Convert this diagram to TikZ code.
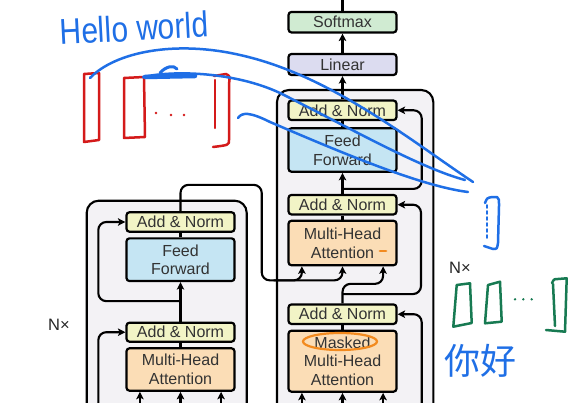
\documentclass[tikz,border=0pt]{standalone}
\usepackage{fontspec}
\setmainfont{Liberation Sans}
\newfontfamily\cjk{Noto Sans CJK SC}
\usetikzlibrary{arrows.meta}
\definecolor{outerfill}{HTML}{F3F2F5}
\definecolor{anfill}{HTML}{F2F4C6}
\definecolor{fffill}{HTML}{C5E5F3}
\definecolor{attfill}{HTML}{FBDDB6}
\definecolor{linfill}{HTML}{DCDCF0}
\definecolor{smfill}{HTML}{D0EBD2}
\definecolor{txt}{HTML}{333333}
\definecolor{hblue}{HTML}{1F6FE6}
\definecolor{hred}{HTML}{D41A1A}
\definecolor{hgreen}{HTML}{177A52}
\definecolor{horange}{HTML}{F28A1E}
\begin{document}
\begin{tikzpicture}[x=1pt,y=-1pt,
  blk/.style={draw=black, line width=2.2pt, rounded corners=3pt, align=center,
    font=\fontsize{16}{18.8}\selectfont, text=txt, inner sep=0pt, minimum width=108pt},
  an/.style={blk, fill=anfill, minimum height=19.5pt},
  ffbox/.style={blk, fill=fffill, minimum height=43.5pt},
  att/.style={blk, fill=attfill},
  conn/.style={line width=2.1pt, rounded corners=8pt},
  arr/.style={conn, -{Stealth[length=7.5pt,width=7.5pt,inset=1.8pt]}},
  outerbox/.style={draw=black, fill=outerfill, line width=2.1pt, rounded corners=12pt},
  hand/.style={line width=2.5pt, line cap=round, line join=round},
  nx/.style={font=\fontsize{16.5}{16.5}\selectfont, text=black!85}
]
\useasboundingbox (0,0) rectangle (585,403);
\clip (0,0) rectangle (585,403);
\fill[white] (0,0) rectangle (585,403);

% outer blocks
\draw[outerbox] (86.7,200.7) rectangle (246.7,445);
\draw[outerbox] (277,90) rectangle (433.3,445);

% decoder column
\node[blk, fill=smfill, minimum height=20.5pt] (sm) at (342.5,22.2) {Softmax};
\node[blk, fill=linfill, minimum height=21pt] (lin) at (342.5,64.5) {Linear};
\node[an] (dAN3) at (342.5,110.3) {Add \& Norm};
\node[ffbox] (dFF) at (342.5,150) {Feed\\Forward};
\node[an] (dAN2) at (342.5,204.7) {Add \& Norm};
\node[att, minimum height=44.5pt] (dMHA) at (342.5,243) {Multi-Head\\Attention};
\node[an] (dAN1) at (342.5,314.2) {Add \& Norm};
\node[att, minimum height=61pt] (dMM) at (342.5,361.2) {Masked\\Multi-Head\\Attention};

% encoder column
\node[an] (eAN2) at (180.5,222) {Add \& Norm};
\node[ffbox, minimum height=42.7pt] (eFF) at (180.5,259.7) {Feed\\Forward};
\node[an, minimum height=19pt] (eAN1) at (180.5,332.2) {Add \& Norm};
\node[att, minimum height=42.4pt] (eMHA) at (180.5,369.5) {Multi-Head\\Attention};

\node[nx] (nxl) at (59,325) {N×};
\node[nx] (nxr) at (460,268) {N×};

% decoder connectors
\draw[arr] (sm.north) -- ++(0,-25);
\draw[arr] (lin.north) -- (sm.south);
\draw[arr] (dAN3.north) -- (lin.south);
\draw[conn] (dFF.north) -- (dAN3.south);
\draw[arr] (dAN2.north) -- (dFF.south);
\draw[arr] (dFF.south) ++(0,16) -- ++(79.2,0) |- (dAN3.east);
\draw[conn] (dMHA.north) -- (dAN2.south);
\draw[arr] (dAN1.north) ++(0,-9.3) -- ++(78.5,0) |- (dAN2.east);
\draw[arr] (dAN1.north) -- ++(0,-19.5) -| ([xshift=-14.5pt]dMHA.south east);
\draw[conn] (dMM.north) -- (dAN1.south);
\draw[arr] (421.7,420) |- (dAN1.east);
\draw[arr] ([xshift=14.5pt]dMM.south west) ++(0,25) -- ([xshift=14.5pt]dMM.south west);
\draw[arr] (dMM.south) ++(0,25) -- (dMM.south);
\draw[arr] ([xshift=-14.5pt]dMM.south east) ++(0,25) -- ([xshift=-14.5pt]dMM.south east);

% encoder output into decoder
\draw[arr] (eAN2.north) -- ++(0,-26.3) -- ++(81.2,0) -- ++(0,95.5) coordinate (ek)
  -| ([xshift=14.5pt]dMHA.south west);
\draw[arr] ([xshift=12pt]ek) -| (dMHA.south);

% encoder connectors
\draw[conn] (eFF.north) -- (eAN2.south);
\draw[arr] (eAN1.north) -- (eFF.south);
\draw[arr] (eFF.south) ++(0,19) -- ++(-82.2,0) |- (eAN2.west);
\draw[conn] (eMHA.north) -- (eAN1.south);
\draw[arr] (98.3,420) |- (eAN1.west);
\draw[arr] ([xshift=14.5pt]eMHA.south west) ++(0,25) -- ([xshift=14.5pt]eMHA.south west);
\draw[arr] (eMHA.south) ++(0,25) -- (eMHA.south);
\draw[arr] ([xshift=-14.5pt]eMHA.south east) ++(0,25) -- ([xshift=-14.5pt]eMHA.south east);

% ---------- hand annotations ----------
% red vectors
\draw[hand, hred] (84,74) -- (99,73) -- (99,140) -- (84,142) -- cycle;
\draw[hand, hred] (124,78) -- (144,77) -- (145,137) -- (124,138) -- cycle;
\draw[hand, hred] (214,76) -- (226,74) .. controls (230,76) .. (229,84) -- (229,140) .. controls (229,145) .. (213,147);
\draw[hand, hred] (215,80) -- (215,128);
\fill[hred] (156,113) circle (1.4) (171,115) circle (1.4) (184,115) circle (1.4);

% orange marks
\draw[hand, horange, line width=2.2pt] (340,341.5) ellipse [x radius=37, y radius=8.5];
\draw[hand, horange, line width=2.8pt] (380,251) -- (386,251);

% blue text
\node[text=hblue, font=\fontsize{30}{30}\selectfont, rotate=3, yscale=1.2] (hw) at (134,28) {Hello world};
\node[text=hblue, font=\cjk\fontsize{36}{36}\selectfont] (nh) at (480,361) {你好};

% blue curves
\draw[hand, hblue] (90,78) .. controls (115,52) and (175,40) .. (240,55)
  .. controls (330,75) and (410,140) .. (473,182);
\draw[hand, hblue] (143,77) .. controls (175,70) and (235,72) .. (280,93)
  .. controls (350,128) and (420,168) .. (465,180);
\draw[hand, hblue, line width=4.5pt] (145,77) -- (195,76);
\draw[hand, hblue, line width=3pt] (160,73) .. controls (166,66) and (174,65) .. (177,69);
\draw[hand, hblue] (238,118) .. controls (242,112) and (250,112) .. (270,122)
  .. controls (340,152) and (420,186) .. (468,192);
% blue vector
\draw[hand, hblue] (485,203) .. controls (487,198) .. (492,197) -- (497,197)
  .. controls (499,199) .. (499,206) -- (498,243) .. controls (497,249) .. (493,249) -- (484,246);
\draw[hand, hblue, line width=1.6pt, dashed] (487,205) -- (487,240);

% green vectors
\draw[hand, hgreen] (456.7,285) -- (470,283.3) -- (471.7,323) -- (453.3,326.7) -- cycle;
\draw[hand, hgreen] (488,285) -- (500,281.7) -- (501.7,321.7) -- (485,323.3) -- cycle;
\fill[hgreen] (515,299.3) circle (1.3) (523.3,299.3) circle (1.3) (531.7,299.3) circle (1.3);
\draw[hand, hgreen] (552,283) .. controls (554,279) .. (558,279) -- (566.7,278.3) -- (565,331.7) -- (546,330);
\draw[hand, hgreen] (553,284) -- (555,326);
\end{tikzpicture}
\end{document}
